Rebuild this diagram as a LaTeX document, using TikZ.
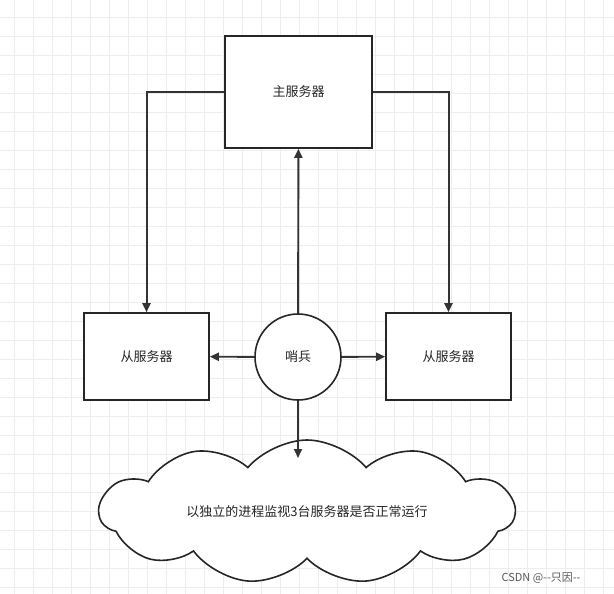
\documentclass[tikz,border=0pt]{standalone}
\usepackage{fontspec}
\newfontfamily\cjk{Noto Sans CJK SC}
\usetikzlibrary{shapes.symbols,arrows.meta}
\begin{document}
\begin{tikzpicture}[x=1pt,y=-1pt,
  box/.style={draw=black!85,line width=1.6pt,fill=white,font=\cjk\fontsize{13}{15}\selectfont,text=black!85},
  conn/.style={draw=black!80,line width=1.9pt,-{Triangle[length=9pt,width=8pt]}}]
\fill[white] (0,0) rectangle (614,594);
\useasboundingbox (0,0) rectangle (614,594);
\foreach \i in {0,...,32}{\draw[black!7,line width=0.8pt] (14+19*\i,0) -- (14+19*\i,594);}
\foreach \i in {0,...,31}{\draw[black!7,line width=0.8pt] (0,17+19*\i) -- (614,17+19*\i);}
\node[box,minimum width=147pt,minimum height=112pt] (main) at (298.5,92) {主服务器};
\node[box,minimum width=125pt,minimum height=87pt] (l) at (146.5,356.5) {从服务器};
\node[box,minimum width=125pt,minimum height=87pt] (r) at (448.5,356.5) {从服务器};
\node[box,circle,minimum size=86pt,inner sep=0pt] (s) at (298,357) {哨兵};
\node[box,cloud,cloud puffs=11,cloud puff arc=100,aspect=3.3,minimum width=415pt,minimum height=115pt,inner sep=0pt] (c) at (307,512) {以独立的进程监视3台服务器是否正常运行};
\coordinate (ct) at (298,458);
\draw[conn,line width=2pt] (main.west) -| (l.north);
\draw[conn,line width=2pt] (main.east) -| (r.north);
\draw[conn] (s) -- (main);
\draw[conn] (s) -- (l);
\draw[conn] (s) -- (r);
\draw[conn] (s.south) -- (ct);
\node[font=\cjk\fontsize{11}{13}\selectfont,text=black!65] (wm) at (541,578) {CSDN @--只因--};
\end{tikzpicture}
\end{document}
